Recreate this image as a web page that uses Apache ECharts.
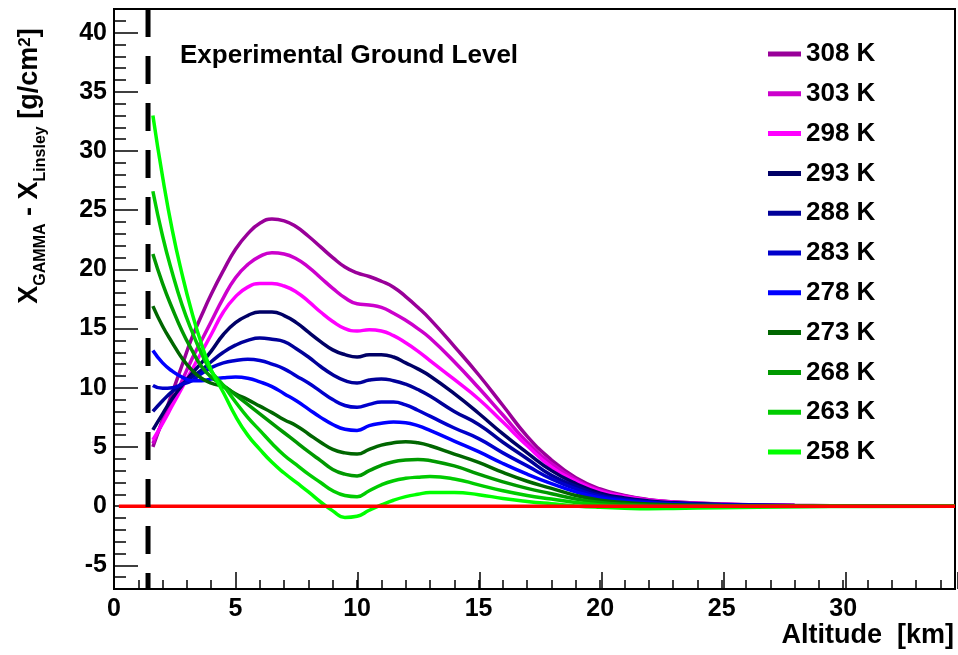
<!DOCTYPE html>
<html>
<head>
<meta charset="utf-8">
<script src="https://cdn.jsdelivr.net/npm/echarts@6/dist/echarts.min.js"></script>
<style>
html,body{margin:0;padding:0;background:#fff;}
#chart{width:958px;height:655px;}
</style>
</head>
<body>
<div id="chart"></div>
<script>
// ---------------- data ----------------
const altitudes = [1.6, 2.0, 2.4, 2.8, 3.2, 3.6, 4.0, 4.5, 5.0, 5.5, 6.0, 6.5, 7.0, 7.5, 8.0, 8.5, 9.0, 9.5, 10.0, 10.5, 11.0, 11.5, 12.0, 12.5, 13.0, 14.0, 15.0, 16.0, 17.0, 18.0, 19.0, 20.0, 21.0, 22.0, 23.0, 25.0, 28.0, 31.0, 34.6];

const seriesNames = ['308 K', '303 K', '298 K', '293 K', '288 K', '283 K', '278 K', '273 K', '268 K', '263 K', '258 K'];
const seriesColors = ['#990099', '#cc00cc', '#ff00ff', '#000066', '#000099', '#0000cc', '#0000ff', '#006600', '#009900', '#00cc00', '#00ff00'];

const t308 = [5.0, 7.3, 9.6, 11.9, 14.2, 16.1, 17.9, 19.9, 21.7, 23.0, 23.9, 24.25, 24.1, 23.6, 22.8, 21.9, 21.0, 20.2, 19.7, 19.4, 19.0, 18.5, 17.7, 16.8, 15.8, 13.5, 11.1, 8.5, 5.9, 3.9, 2.4, 1.45, 0.9, 0.55, 0.37, 0.18, 0.07, 0.03, 0.01];
const t303 = [5.3, 7.1, 8.8, 10.6, 12.4, 14.0, 15.6, 17.6, 19.3, 20.4, 21.1, 21.4, 21.3, 20.9, 20.2, 19.3, 18.4, 17.6, 17.1, 17.0, 16.8, 16.3, 15.7, 15.0, 14.2, 12.2, 10.0, 7.7, 5.4, 3.6, 2.25, 1.35, 0.85, 0.52, 0.35, 0.17, 0.06, 0.03, 0.01];
const t298 = [5.6, 7.0, 8.5, 10.0, 11.5, 13.0, 14.5, 16.4, 17.7, 18.5, 18.8, 18.8, 18.6, 18.1, 17.3, 16.4, 15.6, 15.0, 14.8, 14.9, 14.8, 14.4, 13.8, 13.1, 12.3, 10.7, 9.05, 7.1, 5.1, 3.3, 2.1, 1.25, 0.8, 0.5, 0.33, 0.16, 0.06, 0.03, 0.01];
const t293 = [6.45, 7.8, 9.1, 10.2, 11.2, 12.1, 13.1, 14.5, 15.5, 16.1, 16.4, 16.4, 16.1, 15.5, 14.7, 13.9, 13.2, 12.8, 12.6, 12.8, 12.8, 12.6, 12.1, 11.6, 11.0, 9.5, 7.85, 6.1, 4.5, 3.0, 1.9, 1.1, 0.7, 0.44, 0.29, 0.14, 0.05, 0.02, 0.01];
const t288 = [8.0, 8.9, 9.7, 10.3, 10.9, 11.5, 12.2, 13.0, 13.6, 14.0, 14.2, 14.1, 13.9, 13.3, 12.6, 11.8, 11.1, 10.6, 10.4, 10.65, 10.75, 10.6, 10.3, 9.85, 9.3, 8.0, 6.9, 5.4, 4.0, 2.6, 1.7, 0.95, 0.6, 0.38, 0.25, 0.12, 0.04, 0.02, 0.01];
const t283 = [10.2, 9.95, 10.0, 10.3, 10.6, 11.2, 11.7, 12.1, 12.3, 12.4, 12.3, 12.0, 11.6, 11.0, 10.4, 9.7, 9.0, 8.5, 8.35, 8.6, 8.8, 8.8, 8.55, 8.1, 7.6, 6.6, 5.7, 4.5, 3.4, 2.3, 1.45, 0.82, 0.52, 0.33, 0.21, 0.1, 0.03, 0.01, 0.0];
const t278 = [13.15, 12.1, 11.4, 10.9, 10.6, 10.6, 10.75, 10.85, 10.9, 10.8, 10.5, 10.1, 9.5, 8.9, 8.2, 7.5, 6.9, 6.5, 6.4, 6.8, 7.0, 7.1, 7.05, 6.8, 6.4, 5.5, 4.6, 3.6, 2.7, 1.9, 1.2, 0.68, 0.43, 0.27, 0.17, 0.08, 0.03, 0.01, 0.0];
const t273 = [16.9, 15.2, 13.8, 12.5, 11.5, 10.8, 10.4, 10.1, 9.5, 9.0, 8.45, 7.9, 7.3, 6.8, 6.1, 5.4, 4.8, 4.5, 4.4, 4.8, 5.15, 5.35, 5.45, 5.35, 5.1, 4.4, 3.7, 2.85, 2.1, 1.5, 0.9, 0.5, 0.3, 0.18, 0.12, 0.05, 0.02, 0.01, 0.0];
const t268 = [21.3, 18.8, 16.7, 14.8, 13.2, 11.8, 10.9, 10.2, 9.4, 8.6, 7.8, 7.0, 6.2, 5.4, 4.6, 3.85, 3.1, 2.7, 2.55, 3.0, 3.45, 3.75, 3.9, 3.95, 3.85, 3.4, 2.7, 2.05, 1.5, 1.05, 0.6, 0.3, 0.15, 0.08, 0.04, 0.02, 0.01, 0.0, 0.0];
const t263 = [26.6, 22.8, 19.7, 17.0, 14.8, 12.9, 11.4, 10.2, 8.8, 7.5, 6.4, 5.3, 4.3, 3.5, 2.7, 2.0, 1.3, 0.9, 0.8, 1.3, 1.8, 2.15, 2.35, 2.45, 2.5, 2.3, 1.8, 1.3, 0.9, 0.6, 0.3, 0.1, 0.0, -0.05, -0.06, -0.04, -0.02, -0.01, 0.0];
const t258 = [33.0, 27.8, 23.3, 19.6, 16.4, 13.7, 11.5, 9.6, 7.6, 6.0, 4.8, 3.7, 2.8, 2.0, 1.2, 0.35, -0.4, -0.95, -0.85, -0.35, 0.1, 0.5, 0.8, 1.0, 1.15, 1.15, 0.97, 0.65, 0.4, 0.2, 0.02, -0.1, -0.18, -0.22, -0.2, -0.13, -0.05, -0.02, 0.0];

const seriesValues = [t308, t303, t298, t293, t288, t283, t278, t273, t268, t263, t258];

const groundAltitude = 1.4;          // experimental ground level [km]
const referenceLineX = [0.2, 34.6];  // zero reference line extent [km]
const referenceLineY = [0, 0];

const xTickLabels = [0, 5, 10, 15, 20, 25, 30];
const yTickLabels = [-5, 0, 5, 10, 15, 20, 25, 30, 35, 40];

const xMin = 0, xMax = 34.6;
const yMin = -7, yMax = 42;

// ---------------- chart ----------------
const FONT = '"Liberation Sans", Arial, Helvetica, sans-serif';
const chart = echarts.init(document.getElementById('chart'), null, {renderer: 'canvas'});

const GRID_TOP = 9, GRID_H = 580;
const S = GRID_H / (yMax - yMin);

const lineSeries = seriesNames.map((name, i) => ({
  name: name,
  type: 'line',
  xAxisIndex: 0,
  yAxisIndex: 0,
  data: altitudes.map((a, j) => [a, seriesValues[i][j]]),
  showSymbol: false,
  symbol: 'none',
  smooth: 0.5,
  lineStyle: {color: seriesColors[i], width: 3.5},
  itemStyle: {color: seriesColors[i]},
  z: 3,
  emphasis: {disabled: true}
}));

lineSeries.push({
  name: 'zero',
  type: 'line',
  xAxisIndex: 0, yAxisIndex: 0,
  data: referenceLineX.map((x, j) => [x, referenceLineY[j]]),
  symbol: 'none',
  lineStyle: {color: '#ff0000', width: 3.5},
  z: 4,
  emphasis: {disabled: true}
});

lineSeries.push({
  name: 'ground',
  type: 'line',
  xAxisIndex: 0, yAxisIndex: 0,
  data: [[groundAltitude, yMax], [groundAltitude, yMin]],
  symbol: 'none',
  lineStyle: {color: '#000', width: 5, type: [28, 19]},
  z: 5,
  emphasis: {disabled: true}
});

const isMult5 = v => Math.abs(v / 5 - Math.round(v / 5)) < 1e-6;

const option = {
  animation: false,
  backgroundColor: '#ffffff',
  grid: [
    {left: 114, right: -1, top: GRID_TOP, height: GRID_H, show: true, borderColor: '#000', borderWidth: 2, backgroundColor: 'transparent'},
    // major y ticks: same scale, range starts at -5 (a multiple of 5)
    {left: 114, right: -1, top: GRID_TOP, height: (yMax + 5) * S, show: false},
    // major x ticks
    {left: 114, right: -1, top: GRID_TOP, height: GRID_H, show: false}
  ],
  xAxis: [
    {
      gridIndex: 0, type: 'value', min: xMin, max: xMax, interval: 1,
      axisLine: {show: true, onZero: false, lineStyle: {color: '#000', width: 2}},
      axisTick: {show: true, inside: true, length: 9, lineStyle: {color: '#000', width: 1.5}},
      axisLabel: {
        show: true, margin: 8, color: '#000', fontFamily: FONT, fontWeight: 'bold', fontSize: 25,
        formatter: v => (isMult5(v) && xTickLabels.indexOf(Math.round(v)) >= 0) ? String(Math.round(v)) : ''
      },
      splitLine: {show: false}
    },
    {gridIndex: 1, type: 'value', min: xMin, max: xMax, show: false},
    {
      gridIndex: 2, type: 'value', min: xMin, max: xMax, interval: 5,
      axisLine: {show: false, onZero: false},
      axisTick: {show: true, inside: true, length: 17, lineStyle: {color: '#000', width: 1.5}},
      axisLabel: {show: false},
      splitLine: {show: false}
    }
  ],
  yAxis: [
    {
      gridIndex: 0, type: 'value', min: yMin, max: yMax, interval: 1,
      axisLine: {show: true, onZero: false, lineStyle: {color: '#000', width: 2}},
      axisTick: {show: true, inside: true, length: 12, lineStyle: {color: '#000', width: 1.5}},
      axisLabel: {
        show: true, margin: 7, color: '#000', fontFamily: FONT, fontWeight: 'bold', fontSize: 25,
        formatter: v => (isMult5(v) && yTickLabels.indexOf(Math.round(v)) >= 0) ? String(Math.round(v)) : ''
      },
      splitLine: {show: false}
    },
    {
      gridIndex: 1, type: 'value', min: -5, max: yMax, interval: 5,
      axisLine: {show: false, onZero: false},
      axisTick: {show: true, inside: true, length: 24, lineStyle: {color: '#000', width: 1.5}},
      axisLabel: {show: false},
      splitLine: {show: false}
    },
    {gridIndex: 2, type: 'value', min: yMin, max: yMax, show: false}
  ],
  legend: {
    orient: 'vertical',
    left: 763,
    top: 35,
    itemWidth: 33,
    itemHeight: 5,
    itemGap: 11.8,
    icon: 'rect',
    data: seriesNames,
    textStyle: {color: '#000', fontFamily: FONT, fontWeight: 'bold', fontSize: 26, lineHeight: 28, height: 28},
    selectedMode: false
  },
  graphic: [
    {
      type: 'text', x: 180, y: 56,
      style: {text: 'Experimental Ground Level', font: 'bold 26px ' + FONT, fill: '#000', align: 'left', verticalAlign: 'middle', textAlign: 'left', textVerticalAlign: 'middle'}
    },
    {
      type: 'text', x: 954, y: 636,
      style: {text: 'Altitude  [km]', font: 'bold 27px ' + FONT, fill: '#000', align: 'right', verticalAlign: 'middle', textAlign: 'right', textVerticalAlign: 'middle'}
    },
    {
      type: 'text', x: 30, y: 166, rotation: Math.PI / 2,
      style: {
        text: '{m|X}{s|GAMMA}{m| - X}{s|Linsley}{m| [g/cm}{p|2}{m|]}',
        align: 'center', verticalAlign: 'middle', textAlign: 'center', textVerticalAlign: 'middle',
        fill: '#000',
        rich: {
          m: {fontFamily: FONT, fontWeight: 'bold', fontSize: 27, fill: '#000', color: '#000', lineHeight: 30},
          s: {fontFamily: FONT, fontWeight: 'bold', fontSize: 16, fill: '#000', color: '#000', lineHeight: 16, padding: [22, 0, 0, 0]},
          p: {fontFamily: FONT, fontWeight: 'bold', fontSize: 17, fill: '#000', color: '#000', lineHeight: 17, padding: [0, 0, 10, 0]}
        }
      }
    }
  ],
  series: lineSeries
};

chart.setOption(option);
</script>
</body>
</html>
